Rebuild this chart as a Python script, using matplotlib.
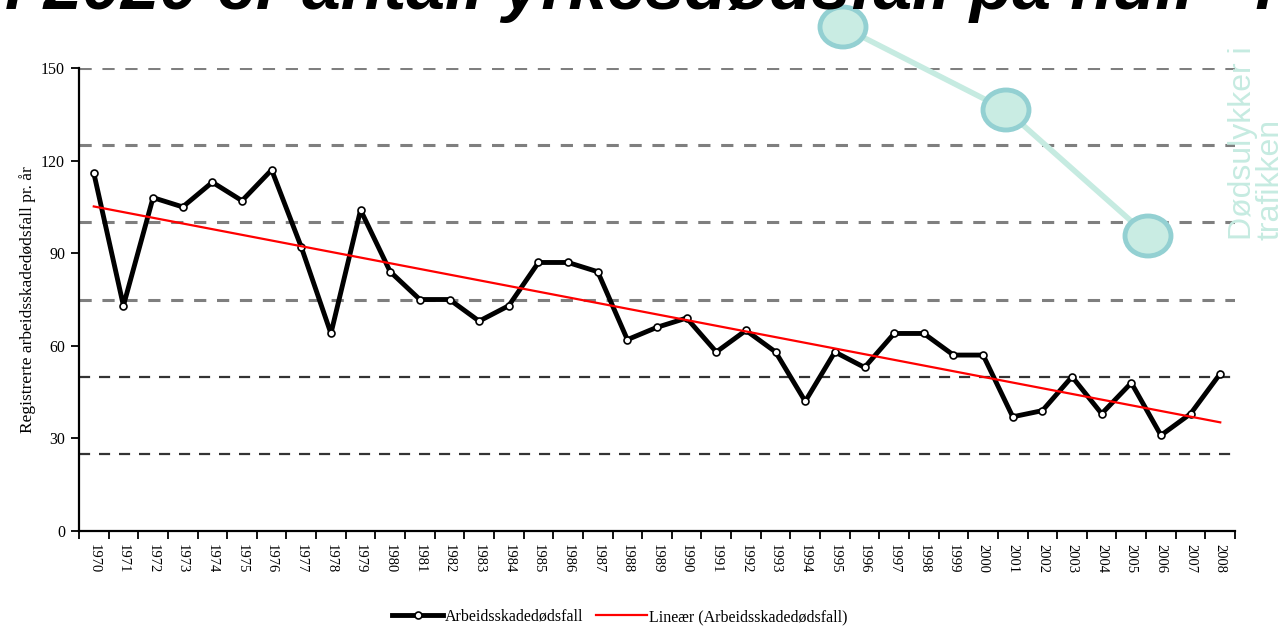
import numpy as np
import matplotlib
matplotlib.use('Agg')
import matplotlib.pyplot as plt
from matplotlib.patches import Ellipse

# data
years = list(range(1970, 2009))
dodsfall = [116, 73, 108, 105, 113, 107, 117, 92, 64, 104,
            84, 75, 75, 68, 73, 87, 87, 84, 62, 66,
            69, 58, 65, 58, 42, 58, 53, 64, 64, 57,
            57, 37, 39, 50, 38, 48, 31, 38, 51]
yticks = [0, 30, 60, 90, 120, 150]
grid_light = [150, 125, 100, 75]
grid_dark = [50, 25]

ylabel = 'Registrerte arbeidsskadedødsfall pr. år'
serie_navn = 'Arbeidsskadedødsfall'
trend_navn = 'Lineær (Arbeidsskadedødsfall)'
tittel = 'i 2020 er antall yrkesdødsfall på null - i'
trafikk_tekst = 'Dødsulykker i\ntrafikken'

# teal slide decoration (figure pixels)
deko_x = [843, 1006, 1148]
deko_y = [27, 110, 236]

serif = ['Liberation Serif', 'DejaVu Serif']
sans = ['Liberation Sans', 'DejaVu Sans']

fig = plt.figure(figsize=(12.86, 6.27), dpi=100)
ax = fig.add_axes([0.0614, 0.1531, 0.899, 0.7384])

x = np.arange(len(years))
k, m = np.polyfit(x, dodsfall, 1)

for g in grid_light:
    ax.axhline(g, color='#7f7f7f', lw=2.2, ls=(0, (4, 3.5)), zorder=1)
for g in grid_dark:
    ax.axhline(g, color='#333333', lw=1.6, ls=(0, (5, 4)), zorder=1)

ax.plot(x, dodsfall, color='black', lw=3.5, marker='o', ms=5,
        mfc='white', mec='black', mew=1.2, label=serie_navn, zorder=3)
ax.plot(x, k * x + m, color='red', lw=1.6, label=trend_navn, zorder=4)

ax.set_xlim(-0.5, len(years) - 0.5)
ax.set_ylim(0, 150)
ax.set_yticks(yticks)
ax.set_yticklabels([str(t) for t in yticks], family=serif, fontsize=11.5)
ax.set_xticks(np.arange(len(years) + 1) - 0.5)
ax.set_xticklabels([])
ax.set_xticks(x, minor=True)
ax.set_xticklabels([str(y) for y in years], minor=True, rotation=-90,
                   family=serif, fontsize=10.5)
ax.tick_params(axis='x', which='major', length=6, width=1.3, direction='out')
ax.tick_params(axis='x', which='minor', length=0, pad=9)
ax.tick_params(axis='y', length=6, width=1.3, direction='out', pad=4)
for s in ['top', 'right']:
    ax.spines[s].set_visible(False)
for s in ['left', 'bottom']:
    ax.spines[s].set_linewidth(1.6)
ax.set_ylabel(ylabel, family=serif, fontsize=12.5, labelpad=4)

leg = fig.legend(loc='center', bbox_to_anchor=(0.482, 0.016), ncol=2,
                 frameon=False, prop={'family': serif, 'size': 11.5},
                 handlelength=3.2, handletextpad=0.1, columnspacing=0.8)

# overlay decoration from the slide
ov = fig.add_axes([0, 0, 1, 1], zorder=10)
ov.set_xlim(0, 1286)
ov.set_ylim(627, 0)
ov.axis('off')
ov.plot(deko_x, deko_y, color='#c6ebe1', lw=4, zorder=1)
for cx, cy in zip(deko_x, deko_y):
    ov.add_patch(Ellipse((cx, cy), 46, 40, facecolor='#c9ece3',
                         edgecolor='#93d0d2', lw=3.5, zorder=2))
ov.text(1257, 240, trafikk_tekst, rotation=90, ha='center', va='bottom',
        multialignment='left', color='#c6ebe1', family=sans, fontsize=23,
        linespacing=0.9)
ov.text(5, 9, tittel, ha='left', va='baseline', family=sans,
        fontsize=50, style='italic', fontweight='bold', color='black')

fig.savefig('out.png', dpi=100)
